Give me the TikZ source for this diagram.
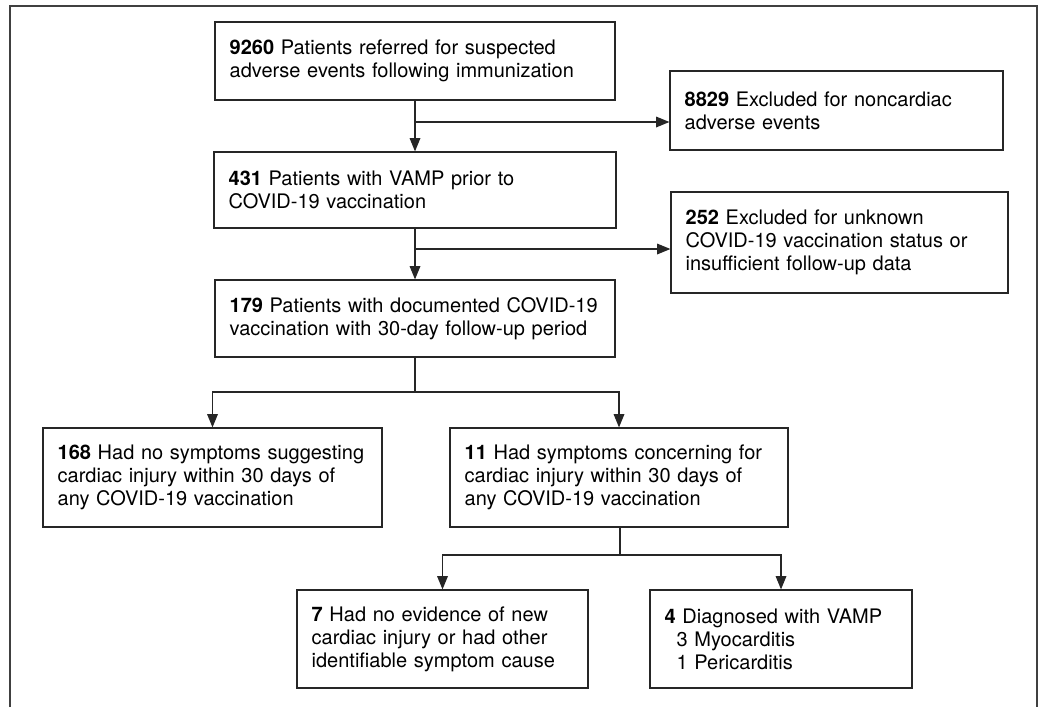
\documentclass[tikz,border=0pt]{standalone}
\usepackage{fontspec}
\setmainfont{TeX Gyre Heros}
\usetikzlibrary{arrows.meta, positioning}
\tikzset{
  flowbox/.style={
    draw=black!85,
    line width=0.9pt,
    rectangle,
    align=left,
    inner xsep=11pt,
    inner ysep=0pt,
    font=\fontsize{15}{17.2}\selectfont,
  },
  arrow/.style={
    -{Triangle[length=10pt,width=8pt]},
    line width=0.9pt,
    draw=black!85
  },
  joint/.style={
    line width=0.9pt,
    draw=black!85
  }
}

\begin{document}
\begin{tikzpicture}[x=0.75pt,y=-0.75pt]

% --- Cadre ---
\useasboundingbox (0,0) rectangle (1048,707);
\draw[black!75, line width=1.1pt] (10,707) -- (10,6) -- (1037,6) -- (1037,707);

% --- Colonne principale ---
\node[flowbox, text width=278pt, minimum height=58.5pt] (refer) at (415,61)
  {\textbf{9260} Patients referred for suspected\\adverse events following immunization};
\node[flowbox, text width=279.5pt, minimum height=57pt] (vamp) at (415,190)
  {\textbf{431} Patients with VAMP prior to\\COVID-19 vaccination};
\node[flowbox, text width=278pt, minimum height=57.75pt] (vacc) at (415,318.5)
  {\textbf{179} Patients with documented COVID-19\\vaccination with 30-day follow-up period};

% --- Exclusions ---
\node[flowbox, text width=227.75pt, minimum height=59.25pt] (excl1) at (836.5,110.5)
  {\textbf{8829} Excluded for noncardiac\\adverse events};
\node[flowbox, text width=230.75pt, minimum height=75.75pt] (excl2) at (839.5,242.5)
  {\textbf{252} Excluded for unknown\\COVID-19 vaccination status or\\insufficient follow-up data};

% --- Symptomes ---
\node[flowbox, text width=232.25pt, minimum height=74.25pt] (nosymp) at (212.5,477.5)
  {\textbf{168} Had no symptoms suggesting\\cardiac injury within 30 days of\\any COVID-19 vaccination};
\node[flowbox, text width=231.5pt, minimum height=74.25pt] (symp) at (619,477.5)
  {\textbf{11} Had symptoms concerning for\\cardiac injury within 30 days of\\any COVID-19 vaccination};

% --- Diagnostic ---
\node[flowbox, text width=196.25pt, minimum height=73.5pt] (other) at (442.5,639)
  {\textbf{7} Had no evidence of new\\cardiac injury or had other\\identifiable symptom cause};
\node[flowbox, text width=174.5pt, minimum height=73.5pt] (diag) at (781,639)
  {\textbf{4} Diagnosed with VAMP\\\hspace*{0.6em}3 Myocarditis\\\hspace*{0.6em}1 Pericarditis};

% --- Points de jonction ---
\coordinate (j1) at (415,122);
\coordinate (j2) at (415,249);
\coordinate (s1) at (415,392);
\coordinate (s2) at (620,555);

% --- Fleches ---
\draw[arrow] (refer) -- (vamp);
\draw[arrow] (j1) -- (j1 -| excl1.west);
\draw[arrow] (vamp) -- (vacc);
\draw[arrow] (j2) -- (j2 -| excl2.west);

\draw[joint] (vacc) -- (s1);
\draw[arrow] (s1) -| (nosymp.north);
\draw[arrow] (s1) -| (symp.north);

\draw[joint] (symp.south -| s2) -- (s2);
\draw[arrow] (s2) -| (other.north);
\draw[arrow] (s2) -| (diag.north);

\end{tikzpicture}
\end{document}
